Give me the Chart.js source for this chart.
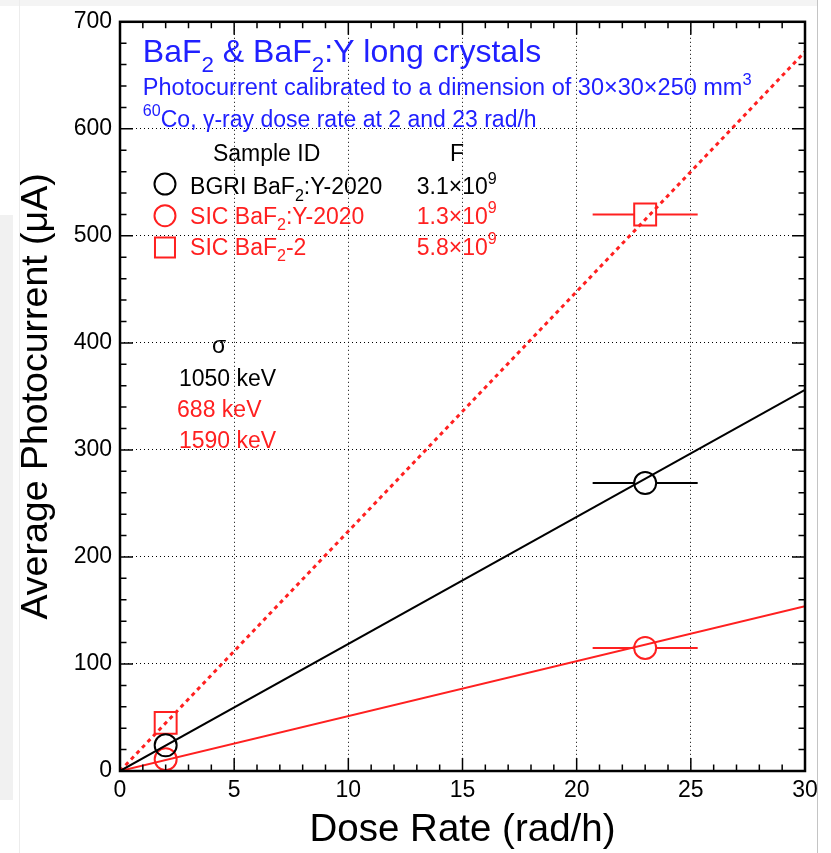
<!DOCTYPE html>
<html>
<head>
<meta charset="utf-8">
<script src="https://cdn.jsdelivr.net/npm/chart.js@4.4.1/dist/chart.umd.min.js"></script>
<style>
  body { margin: 0; background: #fff; }
  #wrap { position: relative; width: 831px; height: 853px; overflow: hidden; }
  .edge { position: absolute; }
  canvas { position: absolute; left: 0; top: 0; }
</style>
</head>
<body>
<div id="wrap">
  <div class="edge" style="left:0;top:0;width:817px;height:6px;background:#f4f4f4"></div>
  <div class="edge" style="left:0;top:215px;width:13px;height:585px;background:#f1f1f1"></div>
  <div class="edge" style="left:19px;top:0;width:1px;height:853px;background:#ececec"></div>
  <div class="edge" style="left:817px;top:0;width:1px;height:853px;background:#c4c4c4"></div>
  <canvas id="chart" width="831" height="853"></canvas>
</div>
<script>
// measured points (dose rate in rad/h, photocurrent in uA)
const doseRate = [2, 23];
const doseRateErr = [0, 2.3];
const bgriCurrent = [24, 269];
const sicYCurrent = [11, 115];
const sicCurrent = [45, 520];

// linear fits through the origin
const fitDose = [0, 30];
const bgriFit = [0, 356];
const sicYFit = [0, 154];
const sicFit = [0, 672];

const xTicks = [0, 5, 10, 15, 20, 25, 30];
const yTicks = [0, 100, 200, 300, 400, 500, 600, 700];

const BLACK = '#000';
const RED = '#ff2020';
const BLUE = '#2020ff';
const FONT = '"Liberation Sans", Arial, Helvetica, sans-serif';

const pts = (xs, ys) => xs.map((x, i) => ({x: x, y: ys[i]}));

// text block, placed in data units like TLatex
const notes = [
    {x: 1.0, y: 662, size: 32, color: BLUE, parts: ['BaF', ['2', '_'], ' & BaF', ['2', '_'], ':Y long crystals']},
    {x: 1.0, y: 631.5, size: 23.5, color: BLUE, parts: ['Photocurrent calibrated to a dimension of 30\u00d730\u00d7250 mm', ['3', '^']]},
    {x: 1.0, y: 602, size: 23, color: BLUE, parts: [['60', '^'], 'Co, \u03b3-ray dose rate at 2 and 23 rad/h']},
    {x: 4.07, y: 569.5, size: 23, color: BLACK, parts: ['Sample ID']},
    {x: 14.45, y: 569.5, size: 23, color: BLACK, parts: ['F']},
    {x: 3.07, y: 539, size: 23, color: BLACK, parts: ['BGRI BaF', ['2', '_'], ':Y-2020']},
    {x: 13.0, y: 539, size: 23, color: BLACK, parts: ['3.1\u00d710', ['9', '^']]},
    {x: 3.07, y: 511.5, size: 23, color: RED, parts: ['SIC BaF', ['2', '_'], ':Y-2020']},
    {x: 13.0, y: 511.5, size: 23, color: RED, parts: ['1.3\u00d710', ['9', '^']]},
    {x: 3.07, y: 482.5, size: 23, color: RED, parts: ['SIC BaF', ['2', '_'], '-2']},
    {x: 13.0, y: 482.5, size: 23, color: RED, parts: ['5.8\u00d710', ['9', '^']]},
    {x: 4.03, y: 391, size: 23, color: BLACK, parts: ['\u03c3']},
    {x: 2.58, y: 359.5, size: 23, color: BLACK, parts: ['1050 keV']},
    {x: 2.5, y: 331, size: 23, color: RED, parts: ['688 keV']},
    {x: 2.58, y: 301.5, size: 23, color: RED, parts: ['1590 keV']}
];

const keyMarks = [
    {x: 1.97, y: 548.4, style: 'circle', color: BLACK},
    {x: 1.97, y: 518.8, style: 'circle', color: RED},
    {x: 1.97, y: 489.2, style: 'rect', color: RED}
];

function richText(ctx, x, y, parts, size, color) {
    ctx.save();
    ctx.fillStyle = color;
    ctx.textAlign = 'left';
    ctx.textBaseline = 'alphabetic';
    let cx = x;
    parts.forEach(p => {
        const txt = Array.isArray(p) ? p[0] : p;
        const mode = Array.isArray(p) ? p[1] : '';
        const s = mode ? size * 0.7 : size;
        const dy = mode === '_' ? size * 0.3 : (mode === '^' ? -size * 0.45 : 0);
        ctx.font = s + 'px ' + FONT;
        ctx.fillText(txt, cx, y + dy);
        cx += ctx.measureText(txt).width;
    });
    ctx.restore();
}

const paperPlugin = {
    id: 'paper',
    afterDatasetsDraw(chart) {
        const {ctx, scales: {x, y}} = chart;
        chart.data.datasets.forEach(ds => {
            if (!ds.xErr) return;
            const gap = ds.pointStyle === 'rect' ? ds.pointRadius * Math.SQRT1_2 : ds.pointRadius;
            ctx.save();
            ctx.strokeStyle = ds.borderColor;
            ctx.lineWidth = 2;
            ds.data.forEach((p, i) => {
                const e = ds.xErr[i];
                if (!e) return;
                const px = x.getPixelForValue(p.x);
                const py = y.getPixelForValue(p.y);
                ctx.beginPath();
                ctx.moveTo(x.getPixelForValue(p.x - e), py);
                ctx.lineTo(px - gap, py);
                ctx.moveTo(px + gap, py);
                ctx.lineTo(x.getPixelForValue(p.x + e), py);
                ctx.stroke();
            });
            ctx.restore();
        });
    },
    afterDraw(chart) {
        const {ctx, chartArea: a, scales: {x, y}} = chart;
        ctx.save();
        ctx.strokeStyle = BLACK;

        // inward ticks on all four sides
        ctx.lineWidth = 1.5;
        ctx.beginPath();
        for (let v = 0; v <= 30; v += 1) {
            const len = v % 5 === 0 ? 13 : 6.5;
            const px = x.getPixelForValue(v);
            ctx.moveTo(px, a.bottom); ctx.lineTo(px, a.bottom - len);
            ctx.moveTo(px, a.top); ctx.lineTo(px, a.top + len);
        }
        for (let v = 0; v <= 700; v += 20) {
            const len = v % 100 === 0 ? 13 : 6.5;
            const py = y.getPixelForValue(v);
            ctx.moveTo(a.left, py); ctx.lineTo(a.left + len, py);
            ctx.moveTo(a.right, py); ctx.lineTo(a.right - len, py);
        }
        ctx.stroke();

        ctx.lineWidth = 2.5;
        ctx.strokeRect(a.left, a.top, a.right - a.left, a.bottom - a.top);

        // key markers
        keyMarks.forEach(m => {
            const px = x.getPixelForValue(m.x);
            const py = y.getPixelForValue(m.y);
            ctx.strokeStyle = m.color;
            ctx.lineWidth = 2;
            ctx.beginPath();
            if (m.style === 'rect') ctx.rect(px - 10, py - 10, 20, 20);
            else ctx.arc(px, py, 10.5, 0, Math.PI * 2);
            ctx.stroke();
        });
        ctx.restore();

        notes.forEach(n => richText(ctx, x.getPixelForValue(n.x), y.getPixelForValue(n.y), n.parts, n.size, n.color));
    }
};

new Chart(document.getElementById('chart'), {
    type: 'scatter',
    data: {
        datasets: [
            {data: pts(fitDose, bgriFit), showLine: true, borderColor: BLACK, borderWidth: 2, pointRadius: 0},
            {data: pts(fitDose, sicYFit), showLine: true, borderColor: RED, borderWidth: 2, pointRadius: 0},
            {data: pts(fitDose, sicFit), showLine: true, borderColor: RED, borderWidth: 3, borderDash: [4, 4], pointRadius: 0},
            {data: pts(doseRate, bgriCurrent), xErr: doseRateErr, pointStyle: 'circle', pointRadius: 11,
             borderColor: BLACK, borderWidth: 2, backgroundColor: 'rgba(0,0,0,0)'},
            {data: pts(doseRate, sicYCurrent), xErr: doseRateErr, pointStyle: 'circle', pointRadius: 11,
             borderColor: RED, borderWidth: 2, backgroundColor: 'rgba(0,0,0,0)'},
            {data: pts(doseRate, sicCurrent), xErr: doseRateErr, pointStyle: 'rect', pointRadius: 15.5,
             borderColor: RED, borderWidth: 2, backgroundColor: 'rgba(0,0,0,0)'}
        ]
    },
    options: {
        responsive: false,
        animation: false,
        events: [],
        layout: {padding: {left: 0, right: 26, top: 14, bottom: 0}},
        plugins: {legend: {display: false}, tooltip: {enabled: false}},
        scales: {
            x: {
                type: 'linear', min: 0, max: 30,
                afterBuildTicks: s => { s.ticks = xTicks.map(v => ({value: v})); },
                afterFit: s => { s.height = 82; },
                grid: {color: BLACK, lineWidth: 1, drawTicks: false},
                border: {display: false, dash: [1, 3]},
                ticks: {padding: 6, color: BLACK, maxRotation: 0, font: {family: FONT, size: 23}},
                title: {display: true, text: 'Dose Rate (rad/h)', color: BLACK,
                        font: {family: FONT, size: 38.5}, padding: {top: 0, bottom: 0}}
            },
            y: {
                type: 'linear', min: 0, max: 700,
                afterBuildTicks: s => { s.ticks = yTicks.map(v => ({value: v})); },
                afterFit: s => { s.width = 120; },
                grid: {color: BLACK, lineWidth: 1, drawTicks: false},
                border: {display: false, dash: [1, 3]},
                ticks: {padding: 8, color: BLACK, font: {family: FONT, size: 23}},
                title: {display: true, text: 'Average Photocurrent (\u03bcA)', color: BLACK,
                        font: {family: FONT, size: 37.5}, padding: {top: 14, bottom: 0}}
            }
        }
    },
    plugins: [paperPlugin]
});
</script>
</body>
</html>
